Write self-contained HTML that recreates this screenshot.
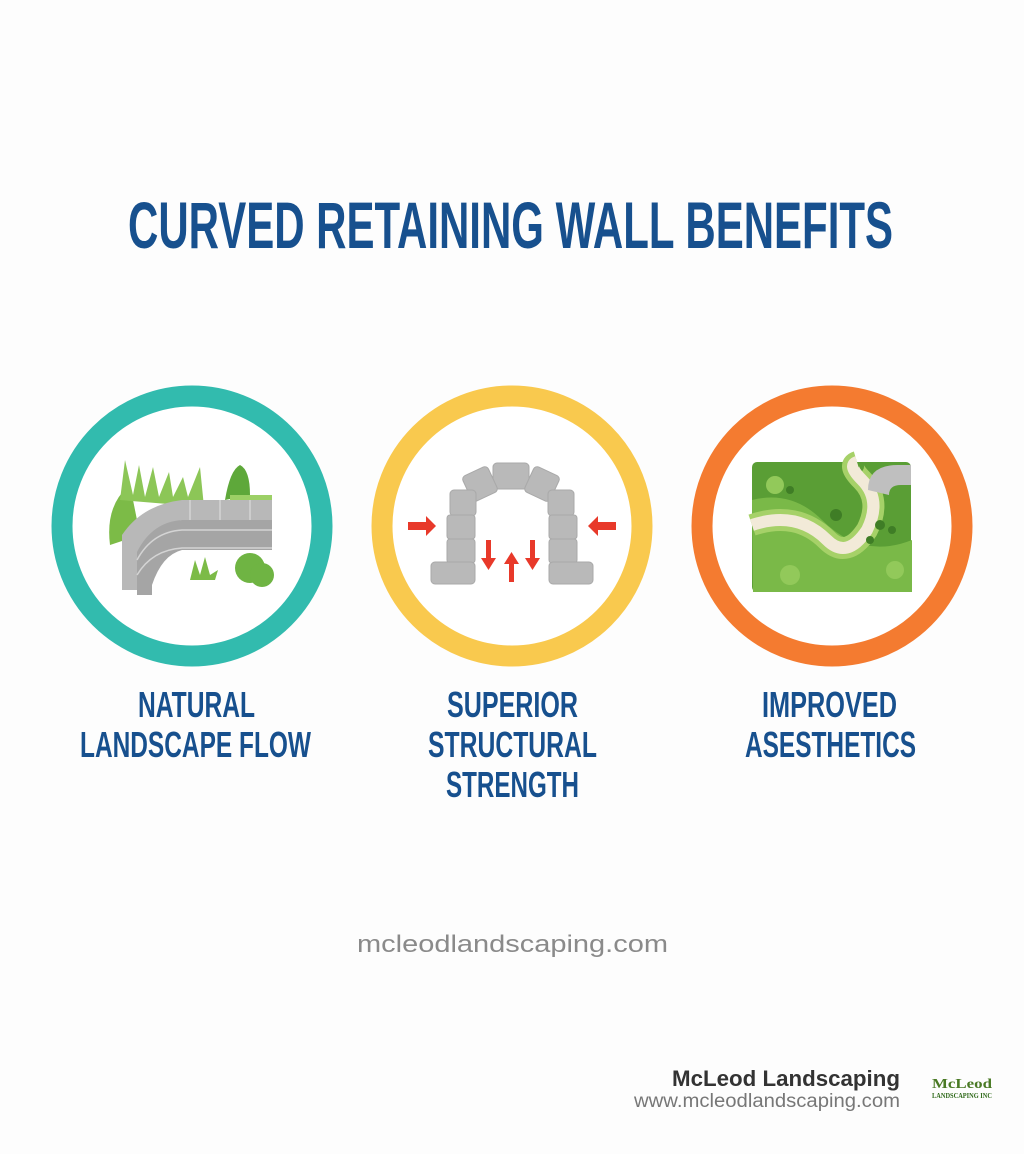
<!DOCTYPE html>
<html><head><meta charset="utf-8"><style>
html,body{margin:0;padding:0;background:#fdfdfd;}
svg{display:block;}
</style></head><body>
<svg width="1024" height="1154" viewBox="0 0 1024 1154" xmlns="http://www.w3.org/2000/svg" font-family="Liberation Sans, sans-serif">
<rect width="1024" height="1154" fill="#fdfdfd"/>
<text x="128" y="248" font-size="66" font-weight="bold" fill="#17508e" textLength="765" lengthAdjust="spacingAndGlyphs">CURVED RETAINING WALL BENEFITS</text>

<!-- circles -->
<circle cx="192" cy="526" r="130" fill="#fff" stroke="#32bbae" stroke-width="21"/>
<circle cx="512" cy="526" r="130" fill="#fff" stroke="#f9c94e" stroke-width="21"/>
<circle cx="832" cy="526" r="130" fill="#fff" stroke="#f47b30" stroke-width="21"/>

<!-- icon 1: curved wall with plants -->
<g>
<path d="M110 545 q-5-40 20-60 l10 50z" fill="#7cbb47"/>
<path d="M120 500 l5-40 8 35 6-30 6 32 8-30 6 30 10-25 4 25 10-20 5 20 12-30 4 40z" fill="#8cc657"/>
<path d="M225 500 q5-30 15-35 q10 5 10 30z" fill="#5ea83a"/>
<rect x="230" y="495" width="42" height="30" fill="#9cd066"/>
<path d="M122 535 q20-30 60-35 l90 0 0 20 -90 0 q-30 5 -45 40 l0 30 -15 0z" fill="#b8b8b8"/>
<path d="M137 552 q15-30 45-32 l90 0 0 30 -90 0 q-20 5 -30 35 l0 10 -15 0z" fill="#a5a5a5"/>
<g stroke="#d4d4d4" stroke-width="1.5" fill="none">
<path d="M137 560 q15-28 45-30 l90 0"/><path d="M137 575 q15-25 45-27 l90 0"/>
<line x1="190" y1="500" x2="190" y2="520"/><line x1="220" y1="500" x2="220" y2="520"/><line x1="250" y1="500" x2="250" y2="520"/>
</g>
<circle cx="250" cy="568" r="15" fill="#6fb443"/><circle cx="262" cy="575" r="12" fill="#6fb443"/>
<path d="M190 580 l5-20 5 15 5-18 5 18 8-5 -3 10z" fill="#7cbb47"/>
</g>

<!-- icon 2: arch -->
<g fill="#b9b9b9" stroke="#a9a9a9" stroke-width="1">
<rect x="493" y="463" width="36" height="26" rx="4"/>
<rect x="466" y="470" width="28" height="28" rx="4" transform="rotate(-25 480 484)"/>
<rect x="528" y="470" width="28" height="28" rx="4" transform="rotate(25 542 484)"/>
<rect x="450" y="490" width="26" height="26" rx="4"/>
<rect x="548" y="490" width="26" height="26" rx="4"/>
<rect x="447" y="515" width="28" height="24" rx="3"/><rect x="549" y="515" width="28" height="24" rx="3"/>
<rect x="447" y="539" width="28" height="24" rx="3"/><rect x="549" y="539" width="28" height="24" rx="3"/>
<rect x="431" y="562" width="44" height="22" rx="4"/><rect x="549" y="562" width="44" height="22" rx="4"/>
</g>
<g fill="#e8392a">
<path d="M408 522h18v-6l10 10-10 10v-6h-18z"/>
<path d="M616 522h-18v-6l-10 10 10 10v-6h18z"/>
<path d="M486 540h5v18h5l-7.5 12-7.5-12h5z"/>
<path d="M530 540h5v18h5l-7.5 12-7.5-12h5z"/>
<path d="M509 582h5v-18h5l-7.5-12-7.5 12h5z"/>
</g>

<!-- icon 3: map -->
<g>
<rect x="752" y="462" width="159" height="130" rx="5" fill="#5a9e35"/>
<path d="M752 500 q40-10 70 20 q40 40 90 20 l0 52 -159 0z" fill="#7ab948"/>
<path d="M752 525 q45-15 75 15 q20 20 40-10 q15-30 -5-50 q-15-15 -5-18" fill="none" stroke="#a6d168" stroke-width="22"/>
<path d="M752 525 q45-15 75 15 q20 20 40-10 q15-30 -5-50 q-15-15 -5-18" fill="none" stroke="#f2ead8" stroke-width="12"/>
<path d="M868 490 q0-25 30-25 l13 0 0 20 -10 0 q-12 0 -12 10z" fill="#bfbfbf"/>
<circle cx="775" cy="485" r="9" fill="#92c95a"/><circle cx="790" cy="575" r="10" fill="#92c95a"/>
<circle cx="895" cy="570" r="9" fill="#92c95a"/><circle cx="880" cy="525" r="5" fill="#3f7d26"/>
<circle cx="892" cy="530" r="4" fill="#3f7d26"/><circle cx="870" cy="540" r="4" fill="#3f7d26"/>
<circle cx="836" cy="515" r="6" fill="#3f7d26"/><circle cx="790" cy="490" r="4" fill="#3f7d26"/>
</g>

<!-- labels -->
<g font-size="36" font-weight="bold" fill="#17508e">
<text x="138" y="717" textLength="117" lengthAdjust="spacingAndGlyphs">NATURAL</text>
<text x="80" y="757" textLength="231" lengthAdjust="spacingAndGlyphs">LANDSCAPE FLOW</text>
<text x="447" y="717" textLength="131" lengthAdjust="spacingAndGlyphs">SUPERIOR</text>
<text x="428" y="757" textLength="169" lengthAdjust="spacingAndGlyphs">STRUCTURAL</text>
<text x="446" y="797" textLength="133" lengthAdjust="spacingAndGlyphs">STRENGTH</text>
<text x="762" y="717" textLength="135" lengthAdjust="spacingAndGlyphs">IMPROVED</text>
<text x="745" y="757" textLength="171" lengthAdjust="spacingAndGlyphs">ASESTHETICS</text>
</g>

<text x="357" y="952" font-size="24" fill="#8a8a8a" textLength="311" lengthAdjust="spacingAndGlyphs">mcleodlandscaping.com</text>

<text x="672" y="1086" font-size="22" font-weight="bold" fill="#333" textLength="228" lengthAdjust="spacingAndGlyphs">McLeod Landscaping</text>
<text x="634" y="1107" font-size="19" fill="#777" textLength="266" lengthAdjust="spacingAndGlyphs">www.mcleodlandscaping.com</text>
<text x="932" y="1088" font-size="14" font-weight="bold" font-family="Liberation Serif, serif" fill="#4a7a25" textLength="60" lengthAdjust="spacingAndGlyphs">McLeod</text>
<text x="932" y="1098" font-size="7" font-weight="bold" font-family="Liberation Serif, serif" fill="#2f6a1a" textLength="60" lengthAdjust="spacingAndGlyphs">LANDSCAPING INC</text>
</svg>
</body></html>
